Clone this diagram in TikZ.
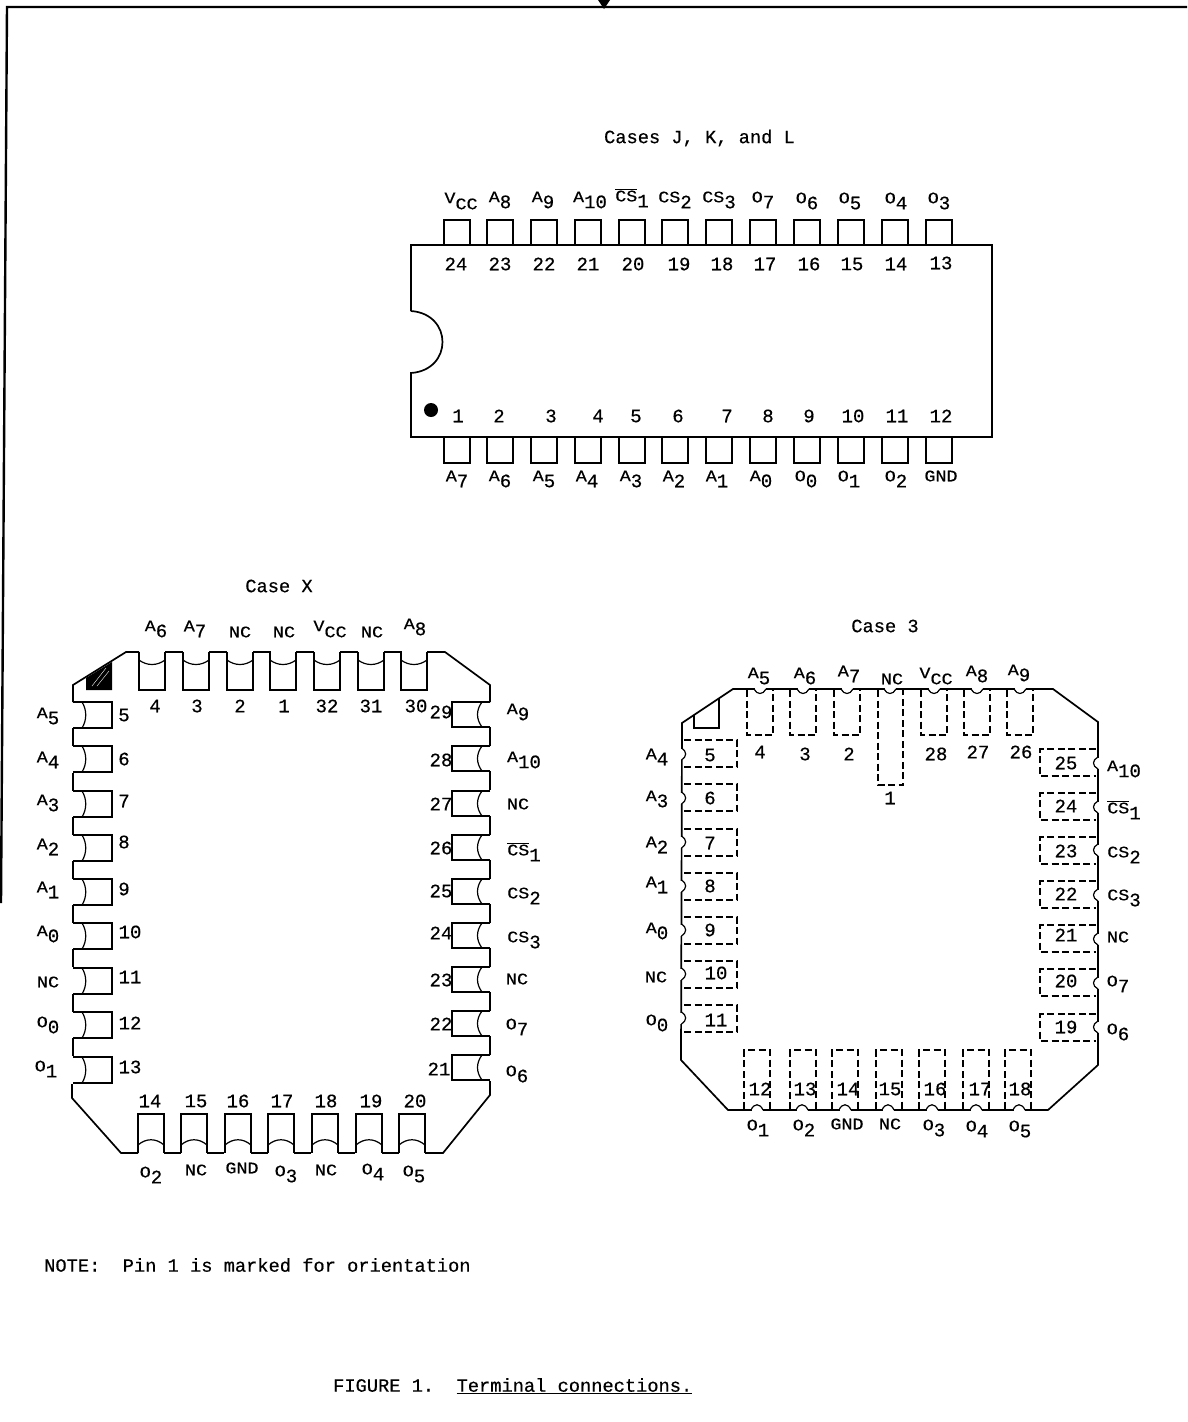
\documentclass[tikz,border=0pt]{standalone}
\usepackage{fontspec}
\setmainfont{Liberation Mono}[UprightFeatures={FakeBold=0.5}]
\newfontfamily\lettrfont{Liberation Mono}[FakeStretch=1.15,FakeBold=0.5]
\newcommand{\lettr}{\lettrfont\fontsize{16}{16}\selectfont}
\newcommand{\pinnm}[2]{{\lettr #1}\raisebox{-6pt}{#2}}
\newcommand{\pinbar}[1]{$\overline{\mbox{\lettr CS}}$\raisebox{-6pt}{#1}}
\newcommand{\ccs}{\pinnm{V}{\lettr CC}}
\newcommand{\ncs}{{\lettr NC}}
\newcommand{\gnd}{{\lettr GND}}
\tikzset{
	outl/.style={line width=1.7pt, line join=miter},
	dashpin/.style={line width=1.4pt, dash pattern=on 7pt off 3.5pt},
	thin arc/.style={line width=1.2pt},
	lab/.style={inner sep=0pt, font=\fontsize{19}{19}\selectfont},
	capt/.style={inner sep=0pt, font=\fontsize{18.7}{20}\selectfont}
}
\begin{document}
\begin{tikzpicture}[x=1pt,y=-1pt]
	\useasboundingbox (0,0) rectangle (1187,1422);
	% frame at the top of the page
	\coordinate (fa) at (1,903);
	\coordinate (fb) at (7,7);
	\coordinate (fc) at (1187,7);
	\draw[line width=2.4pt] (fa) -- (fb) -- (fc);
	\fill (598,0) -- (610,0) -- (604,9) -- cycle;
	\node[capt] (casejkl) at (699.5,138) {Cases J, K, and L};
	\node[capt] (casex) at (279,586) {Case X};
	\node[capt] (casethree) at (885,626) {Case 3};
	\node[capt, anchor=west] (note) at (44,1265) {NOTE:\ \ Pin 1 is marked for orientation};
	\node[capt, anchor=west] (figure) at (333,1386) {FIGURE 1.\ \ \underline{Terminal connections.}};

	% cases J, K, L
	\draw[outl] (411,311) -- (411,245) -- (992,245) -- (992,437) -- (411,437) -- (411,373) .. controls (453,370) and (453,314) .. (411,311);
	\fill (431,410) circle (7);
	\foreach \x in {444,487,531,575,619,662,706,750,794,838,882,926}
	{
		\draw[outl] (\x,245) -- (\x,220) -- (\x+26,220) -- (\x+26,245);
		\draw[outl] (\x,437) -- (\x,463) -- (\x+26,463) -- (\x+26,437);
	}
	\foreach \x/\y/\t [count=\i] in {461/201/\ccs, 500/200/\pinnm{A}{8}, 543/200/\pinnm{A}{9}, 590/200/\pinnm{A}{10}, 632/198/\pinbar{1}, 675/200/\pinnm{\lettr CS}{2}, 719/200/\pinnm{\lettr CS}{3}, 763/200/\pinnm{O}{7}, 807/201/\pinnm{O}{6}, 850/201/\pinnm{O}{5}, 896/201/\pinnm{O}{4}, 939/201/\pinnm{O}{3}, 457/479/\pinnm{A}{7}, 500/479/\pinnm{A}{6}, 544/479/\pinnm{A}{5}, 587/479/\pinnm{A}{4}, 631/479/\pinnm{A}{3}, 674/479/\pinnm{A}{2}, 717/479/\pinnm{A}{1}, 761/479/\pinnm{A}{0}, 806/479/\pinnm{O}{0}, 849/479/\pinnm{O}{1}, 896/479/\pinnm{O}{2}, 941/476/\gnd}
		\node[lab] (jl\i) at (\x,\y) {\t};
	\foreach \x/\y/\t in {456/264/24, 500/264/23, 544/264/22, 588/264/21, 633/264/20, 679/264/19, 722/264/18, 765/264/17, 809/264/16, 852/264/15, 896/264/14, 941/263/13, 458/416/1, 499/416/2, 551/416/3, 598/416/4, 636/416/5, 678/416/6, 727/416/7, 768/416/8, 809/416/9, 853/416/10, 897/416/11, 941/416/12}
		\node[lab] (jn\t) at (\x,\y) {\t};

	% case X
	\draw[outl] (73,702) -- (73,685) -- (126,652) -- (139,652);
	\draw[outl] (427,652) -- (445,652) -- (490,685) -- (490,702);
	\draw[outl] (490,1081) -- (490,1095) -- (443,1153) -- (425,1153);
	\draw[outl] (138,1153) -- (121,1153) -- (72,1098) -- (72,1084);
	\fill (86,690) -- (112,690) -- (112,662) -- (86,678) -- cycle;
	\draw[white, line width=.4pt] (92,686) -- (106,668) (97,686) -- (109,671);
	\foreach \x in {139,183,227,270,314,358,401}
	{
		\draw[outl] (\x,652) -- (\x,690) -- (\x+26,690) -- (\x+26,652);
		\draw[thin arc] (\x,660) .. controls (\x+8,666) and (\x+18,666) .. (\x+26,660);
	}
	\foreach \x in {165,209,253,296,340,384}
		\draw[outl] (\x,652) -- (\x+18,652);
	\foreach \x in {138,181,225,268,312,356,399}
	{
		\draw[outl] (\x,1153) -- (\x,1114) -- (\x+26,1114) -- (\x+26,1153);
		\draw[thin arc] (\x,1145) .. controls (\x+8,1138) and (\x+18,1138) .. (\x+26,1145);
	}
	\foreach \x in {164,207,251,294,338,382}
		\draw[outl] (\x,1153) -- (\x+17,1153);
	\foreach \y in {702,746,791,835,879,923,968,1012,1057}
	{
		\draw[outl] (73,\y) -- (112,\y) -- (112,\y+26) -- (73,\y+26);
		\draw[thin arc] (82,\y) .. controls (87,\y+8) and (87,\y+18) .. (82,\y+26);
	}
	\foreach \y in {728,773,817,861,905,949,994,1038}
		\draw[outl] (73,\y) -- (73,\y+18);
	\foreach \y in {702,746,791,835,879,923,967,1011,1055}
	{
		\draw[outl] (490,\y) -- (452,\y) -- (452,\y+25) -- (490,\y+25);
		\draw[thin arc] (482,\y) .. controls (476,\y+8) and (476,\y+17) .. (482,\y+25);
	}
	\foreach \y in {727,771,816,860,904,948,992,1036}
		\draw[outl] (490,\y) -- (490,\y+19);
	\foreach \x/\y/\t [count=\i] in {156/629/\pinnm{A}{6}, 195/629/\pinnm{A}{7}, 240/632/\ncs, 284/632/\ncs, 330/629/\ccs, 372/632/\ncs, 415/627/\pinnm{A}{8}, 48/716/\pinnm{A}{5}, 48/760/\pinnm{A}{4}, 48/803/\pinnm{A}{3}, 48/847/\pinnm{A}{2}, 48/890/\pinnm{A}{1}, 48/934/\pinnm{A}{0}, 48/982/\ncs, 48/1025/\pinnm{O}{0}, 46/1069/\pinnm{O}{1}, 518/712/\pinnm{A}{9}, 524/760/\pinnm{A}{10}, 518/804/\ncs, 524/852/\pinbar{1}, 524/896/\pinnm{\lettr CS}{2}, 524/940/\pinnm{\lettr CS}{3}, 517/979/\ncs, 517/1027/\pinnm{O}{7}, 517/1074/\pinnm{O}{6}, 151/1175/\pinnm{O}{2}, 196/1170/\ncs, 242/1168/\gnd, 286/1174/\pinnm{O}{3}, 326/1170/\ncs, 373/1172/\pinnm{O}{4}, 414/1174/\pinnm{O}{5}}
		\node[lab] (xl\i) at (\x,\y) {\t};
	\foreach \x/\y/\t in {155/706/4, 197/706/3, 240/706/2, 284/706/1, 327/706/32, 371/706/31, 416/706/30, 124/715/5, 124/759/6, 124/801/7, 124/842/8, 124/889/9, 130/932/10, 130/977/11, 130/1023/12, 130/1067/13, 441/712/29, 441/760/28, 441/804/27, 441/848/26, 441/891/25, 441/933/24, 441/980/23, 441/1024/22, 439/1069/21, 150/1101/14, 196/1101/15, 238/1101/16, 282/1101/17, 326/1101/18, 371/1101/19, 415/1101/20}
		\node[lab] (xn\t) at (\x,\y) {\t};

	% case 3
	\draw[outl] (733,689) -- (1053,689) -- (1098,722) -- (1098,1065) -- (1048,1110) -- (728,1110) -- (681,1060) -- (682,723) -- cycle;
	\draw[outl] (694,715) -- (694,728) -- (719,728) -- (719,699);
	\foreach \x in {760,803,847,890,934,977,1020}
	{
		\draw[white, line width=2.4pt] (\x-5.5,689) -- (\x+5.5,689);
		\draw[thin arc] (\x-6,689) .. controls (\x-3,695) and (\x+3,695) .. (\x+6,689);
	}
	\foreach \x in {757,802,845,888,932,976,1019}
	{
		\draw[white, line width=2.4pt] (\x-5.5,1110) -- (\x+5.5,1110);
		\draw[thin arc] (\x-6,1110) .. controls (\x-3,1103) and (\x+3,1103) .. (\x+6,1110);
	}
	\foreach \y in {754,798,842,886,930,974,1018}
	{
		\draw[white, line width=2.4pt] (681.5,\y-5.5) -- (681.5,\y+5.5);
		\draw[thin arc] (681.5,\y-6) .. controls (687,\y-3) and (687,\y+3) .. (681.5,\y+6);
	}
	\foreach \y in {763,807,850,895,939,983,1027}
	{
		\draw[white, line width=2.4pt] (1098,\y-5.5) -- (1098,\y+5.5);
		\draw[thin arc] (1098,\y-6) .. controls (1092,\y-3) and (1092,\y+3) .. (1098,\y+6);
	}
	\foreach \x in {747,790,834,921,964,1007}
		\draw[dashpin] (\x,690) -- (\x,735) -- (\x+26,735) -- (\x+26,690);
	\draw[dashpin] (878,690) -- (878,785) -- (903,785) -- (903,690);
	\foreach \x in {744,790,832,876,919,963,1005}
		\draw[dashpin] (\x,1109) -- (\x,1050) -- (\x+26,1050) -- (\x+26,1109);
	\foreach \y in {740,784,829,873,917,961,1005}
		\draw[dashpin] (684,\y) -- (737,\y) -- (737,\y+27) -- (684,\y+27);
	\foreach \y in {749,793,837,881,925,969,1014}
		\draw[dashpin] (1096,\y) -- (1040,\y) -- (1040,\y+27) -- (1096,\y+27);
	\foreach \x/\y/\t [count=\i] in {759/676/\pinnm{A}{5}, 805/676/\pinnm{A}{6}, 849/674/\pinnm{A}{7}, 892/679/\ncs, 936/676/\ccs, 977/674/\pinnm{A}{8}, 1019/673/\pinnm{A}{9}, 657/757/\pinnm{A}{4}, 657/799/\pinnm{A}{3}, 657/845/\pinnm{A}{2}, 657/885/\pinnm{A}{1}, 657/931/\pinnm{A}{0}, 656/977/\ncs, 657/1023/\pinnm{O}{0}, 1124/769/\pinnm{A}{10}, 1124/810/\pinbar{1}, 1124/855/\pinnm{\lettr CS}{2}, 1124/898/\pinnm{\lettr CS}{3}, 1118/937/\ncs, 1118/984/\pinnm{O}{7}, 1118/1032/\pinnm{O}{6}, 758/1128/\pinnm{O}{1}, 804/1128/\pinnm{O}{2}, 847/1124/\gnd, 890/1124/\ncs, 934/1128/\pinnm{O}{3}, 977/1129/\pinnm{O}{4}, 1020/1129/\pinnm{O}{5}}
		\node[lab] (tl\i) at (\x,\y) {\t};
	\foreach \x/\y/\t in {760/752/4, 805/754/3, 849/754/2, 890/798/1, 936/754/28, 978/752/27, 1021/752/26, 710/755/5, 710/798/6, 710/843/7, 710/886/8, 710/930/9, 716/973/10, 716/1020/11, 1066/763/25, 1066/806/24, 1066/851/23, 1066/894/22, 1066/935/21, 1066/981/20, 1066/1027/19, 760/1089/12, 805/1089/13, 848/1089/14, 890/1089/15, 935/1089/16, 980/1089/17, 1020/1089/18}
		\node[lab] (tn\t) at (\x,\y) {\t};
\end{tikzpicture}
\end{document}
